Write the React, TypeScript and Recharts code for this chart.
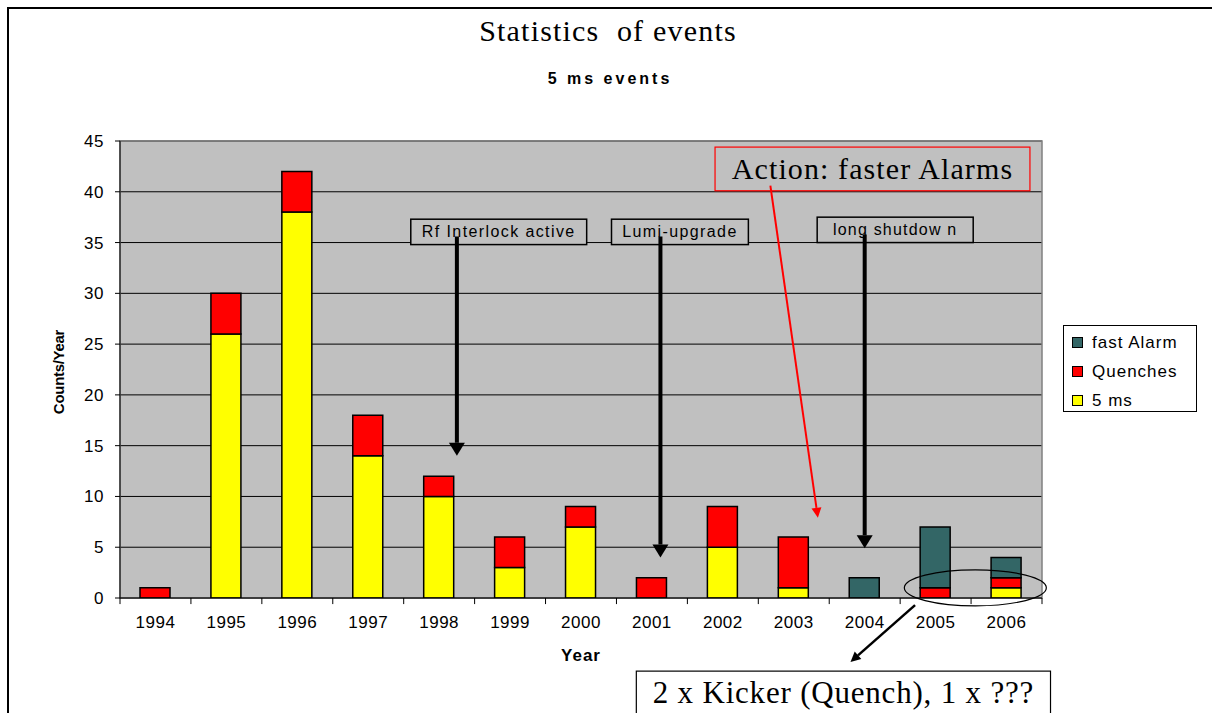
import React from 'react';
import {
  BarChart,
  Bar,
  XAxis,
  YAxis,
  CartesianGrid,
  ReferenceLine,
  ReferenceArea,
  ReferenceDot,
} from 'recharts';

// ---------- data ----------
const years = ['1994', '1995', '1996', '1997', '1998', '1999', '2000', '2001', '2002', '2003', '2004', '2005', '2006'];
const fiveMs = [0, 26, 38, 14, 10, 3, 7, 0, 5, 1, 0, 0, 1];
const quenches = [1, 4, 4, 4, 2, 3, 2, 2, 4, 5, 0, 1, 1];
const fastAlarm = [0, 0, 0, 0, 0, 0, 0, 0, 0, 0, 2, 6, 2];
const yTicks = [0, 5, 10, 15, 20, 25, 30, 35, 40, 45];
const seriesNames = { fast: 'fast Alarm', q: 'Quenches', ms: '5 ms' };

const title = 'Statistics  of events';
const subtitle = '5 ms events';
const xTitle = 'Year';
const yTitle = 'Counts/Year';

const data = years.map((y, i) => ({ year: y, pos: i, ms: fiveMs[i], q: quenches[i], fast: fastAlarm[i] }));
const boundaries = years.map((_, i) => i - 0.5).concat([years.length - 0.5]);

// ---------- styles ----------
const SANS = '"Liberation Sans", Arial, sans-serif';
const SERIF = '"Liberation Serif", "Times New Roman", serif';
const C_MS = '#FFFF00';
const C_Q = '#FF0000';
const C_FAST = '#336666';
const PLOT_BG = '#C0C0C0';

const legendItems = [
  { name: seriesNames.fast, color: C_FAST },
  { name: seriesNames.q, color: C_Q },
  { name: seriesNames.ms, color: C_MS },
];

const arrowShape = (color: string, width: number, headL: number, headW: number) => (p: any) => {
  const { x1, y1, x2, y2 } = p;
  const dx = x2 - x1;
  const dy = y2 - y1;
  const len = Math.hypot(dx, dy) || 1;
  const ux = dx / len;
  const uy = dy / len;
  const bx = x2 - ux * headL;
  const by = y2 - uy * headL;
  const px = -uy;
  const py = ux;
  return (
    <g>
      <line x1={x1} y1={y1} x2={bx} y2={by} stroke={color} strokeWidth={width} />
      <polygon
        points={`${x2},${y2} ${bx + (px * headW) / 2},${by + (py * headW) / 2} ${bx - (px * headW) / 2},${by - (py * headW) / 2}`}
        fill={color}
      />
    </g>
  );
};

const boxShape = (
  text: string,
  opts: { stroke: string; font: string; size: number; spacing: number; strokeWidth: number }
) => (p: any) => {
  const { x, y, width, height } = p;
  return (
    <g>
      <rect x={x} y={y} width={width} height={height} fill={PLOT_BG} stroke={opts.stroke} strokeWidth={opts.strokeWidth} />
      <text
        x={x + width / 2}
        y={y + height / 2}
        textAnchor="middle"
        dominantBaseline="central"
        fontFamily={opts.font}
        fontSize={opts.size}
        letterSpacing={opts.spacing}
        fill="#000"
      >
        {text}
      </text>
    </g>
  );
};

const kickerShape = (p: any) => {
  const { x, y, width, height } = p;
  return (
    <g>
      <rect x={x} y={y} width={width} height={height} fill="#fff" stroke="#000" strokeWidth={1.2} />
      <text
        x={x + width / 2}
        y={y + 21}
        textAnchor="middle"
        dominantBaseline="central"
        fontFamily={SERIF}
        fontSize={31}
        letterSpacing={0.8}
        fill="#000"
      >
        2 x Kicker (Quench), 1 x ???
      </text>
    </g>
  );
};

const ellipseShape = (p: any) => (
  <ellipse cx={p.cx} cy={p.cy} rx={71} ry={18} fill="none" stroke="#000" strokeWidth={1.2} />
);

const tickStyle: any = { fontSize: 17, fill: '#000', fontFamily: SANS, letterSpacing: 0.5 };

export default function App() {
  return (
    <div style={{ position: 'relative', width: 1212, height: 713, overflow: 'hidden', background: '#fff' }}>
      <style>{`body{margin:0;overflow:hidden;background:#fff}`}</style>
      <div
        style={{
          position: 'absolute',
          left: 7,
          top: 7,
          width: 1300,
          height: 800,
          borderLeft: '2px solid #000',
          borderTop: '2px solid #000',
        }}
      />
      <div style={{ position: 'absolute', left: 0, top: 0 }}>
        <BarChart
          width={1212}
          height={713}
          data={data}
          margin={{ top: 141, right: 170, bottom: 75, left: 60 }}
          barSize={30}
        >
          <CartesianGrid vertical={false} fill={PLOT_BG} stroke="#000" strokeWidth={1} />
          <XAxis
            dataKey="year"
            tickLine={false}
            axisLine={{ stroke: '#000', strokeWidth: 1 }}
            height={40}
            tickMargin={12}
            interval={0}
            tick={tickStyle}
          />
          <XAxis xAxisId="n" dataKey="pos" type="number" domain={[-0.5, 12.5]} hide allowDataOverflow />
          <YAxis
            domain={[0, 45]}
            ticks={yTicks}
            width={60}
            interval={0}
            tickSize={5}
            tickMargin={11}
            axisLine={{ stroke: '#000', strokeWidth: 1 }}
            tickLine={{ stroke: '#000' }}
            tick={tickStyle}
            allowDataOverflow
          />
          <Bar dataKey="ms" name={seriesNames.ms} stackId="a" fill={C_MS} stroke="#000" strokeWidth={1.5} isAnimationActive={false} />
          <Bar dataKey="q" name={seriesNames.q} stackId="a" fill={C_Q} stroke="#000" strokeWidth={1.5} isAnimationActive={false} />
          <Bar dataKey="fast" name={seriesNames.fast} stackId="a" fill={C_FAST} stroke="#000" strokeWidth={1.5} isAnimationActive={false} />

          {/* plot-area border */}
          <ReferenceArea xAxisId="n" x1={-0.5} x2={12.5} y1={0} y2={45} fill="none" stroke="#808080" strokeWidth={1.5} ifOverflow="visible" />
          {/* category boundary tick marks */}
          {boundaries.map((b) => (
            <ReferenceLine
              key={`t${b}`}
              xAxisId="n"
              segment={[{ x: b, y: 0 }, { x: b, y: -0.6 }]}
              stroke="#000"
              strokeWidth={1}
              ifOverflow="visible"
            />
          ))}

          {/* annotation boxes */}
          <ReferenceArea
            xAxisId="n"
            x1={3.6}
            x2={6.08}
            y1={34.8}
            y2={37.3}
            ifOverflow="visible"
            shape={boxShape('Rf Interlock active', { stroke: '#000', font: SANS, size: 16, spacing: 1.4, strokeWidth: 1.5 })}
          />
          <ReferenceArea
            xAxisId="n"
            x1={6.43}
            x2={8.36}
            y1={34.8}
            y2={37.3}
            ifOverflow="visible"
            shape={boxShape('Lumi-upgrade', { stroke: '#000', font: SANS, size: 16, spacing: 1.4, strokeWidth: 1.5 })}
          />
          <ReferenceArea
            xAxisId="n"
            x1={9.33}
            x2={11.53}
            y1={35.0}
            y2={37.5}
            ifOverflow="visible"
            shape={boxShape('long shutdow n', { stroke: '#000', font: SANS, size: 16, spacing: 1.2, strokeWidth: 1.5 })}
          />
          <ReferenceArea
            xAxisId="n"
            x1={7.89}
            x2={12.33}
            y1={40.1}
            y2={44.4}
            ifOverflow="visible"
            shape={boxShape('Action: faster Alarms', { stroke: '#FF0000', font: SERIF, size: 30, spacing: 1.1, strokeWidth: 1.2 })}
          />

          {/* arrows */}
          <ReferenceLine
            xAxisId="n"
            segment={[{ x: 4.25, y: 35.6 }, { x: 4.25, y: 14.0 }]}
            ifOverflow="visible"
            shape={arrowShape('#000', 4, 13, 16)}
          />
          <ReferenceLine
            xAxisId="n"
            segment={[{ x: 7.12, y: 35.6 }, { x: 7.12, y: 4.0 }]}
            ifOverflow="visible"
            shape={arrowShape('#000', 4, 13, 16)}
          />
          <ReferenceLine
            xAxisId="n"
            segment={[{ x: 10.0, y: 35.8 }, { x: 10.0, y: 4.9 }]}
            ifOverflow="visible"
            shape={arrowShape('#000', 4, 13, 16)}
          />
          <ReferenceLine
            xAxisId="n"
            segment={[{ x: 8.67, y: 40.6 }, { x: 9.34, y: 7.9 }]}
            ifOverflow="visible"
            shape={arrowShape('#FF0000', 2, 10, 10)}
          />

          {/* circled region and kicker note */}
          <ReferenceDot xAxisId="n" x={11.56} y={1.0} ifOverflow="visible" shape={ellipseShape} />
          <ReferenceLine
            xAxisId="n"
            segment={[{ x: 10.71, y: -0.7 }, { x: 9.8, y: -6.3 }]}
            ifOverflow="visible"
            shape={arrowShape('#000', 2.5, 10, 10)}
          />
          <ReferenceArea xAxisId="n" x1={6.78} x2={12.62} y1={-14} y2={-7.2} ifOverflow="visible" shape={kickerShape} />
        </BarChart>
      </div>

      {/* legend */}
      <div
        style={{
          position: 'absolute',
          left: 1063,
          top: 325,
          width: 134,
          height: 87,
          border: '1px solid #000',
          background: '#fff',
          boxSizing: 'border-box',
          paddingTop: 2,
          fontFamily: SANS,
          fontSize: 17,
          letterSpacing: 1,
        }}
      >
        {legendItems.map((it) => (
          <div key={it.name} style={{ display: 'flex', alignItems: 'center', height: 29, paddingLeft: 8 }}>
            <span
              style={{
                display: 'inline-block',
                width: 9,
                height: 9,
                background: it.color,
                border: '1px solid #000',
                marginRight: 9,
              }}
            />
            <span>{it.name}</span>
          </div>
        ))}
      </div>

      {/* titles */}
      <svg width={1212} height={713} style={{ position: 'absolute', left: 0, top: 0, pointerEvents: 'none' }}>
        <text x={608} y={41} textAnchor="middle" fontFamily={SERIF} fontSize={30} letterSpacing={1.2} fill="#000" style={{ whiteSpace: 'pre' }}>
          {title}
        </text>
        <text x={610} y={84} textAnchor="middle" fontFamily={SANS} fontWeight="bold" fontSize={16} letterSpacing={3} fill="#000">
          {subtitle}
        </text>
        <text x={581} y={661} textAnchor="middle" fontFamily={SANS} fontWeight="bold" fontSize={17} letterSpacing={1} fill="#000">
          {xTitle}
        </text>
        <text
          x={58}
          y={372}
          textAnchor="middle"
          dominantBaseline="central"
          fontFamily={SANS}
          fontWeight="bold"
          fontSize={15}
          letterSpacing={-0.3}
          fill="#000"
          transform="rotate(-90 58 372)"
        >
          {yTitle}
        </text>
      </svg>
    </div>
  );
}
